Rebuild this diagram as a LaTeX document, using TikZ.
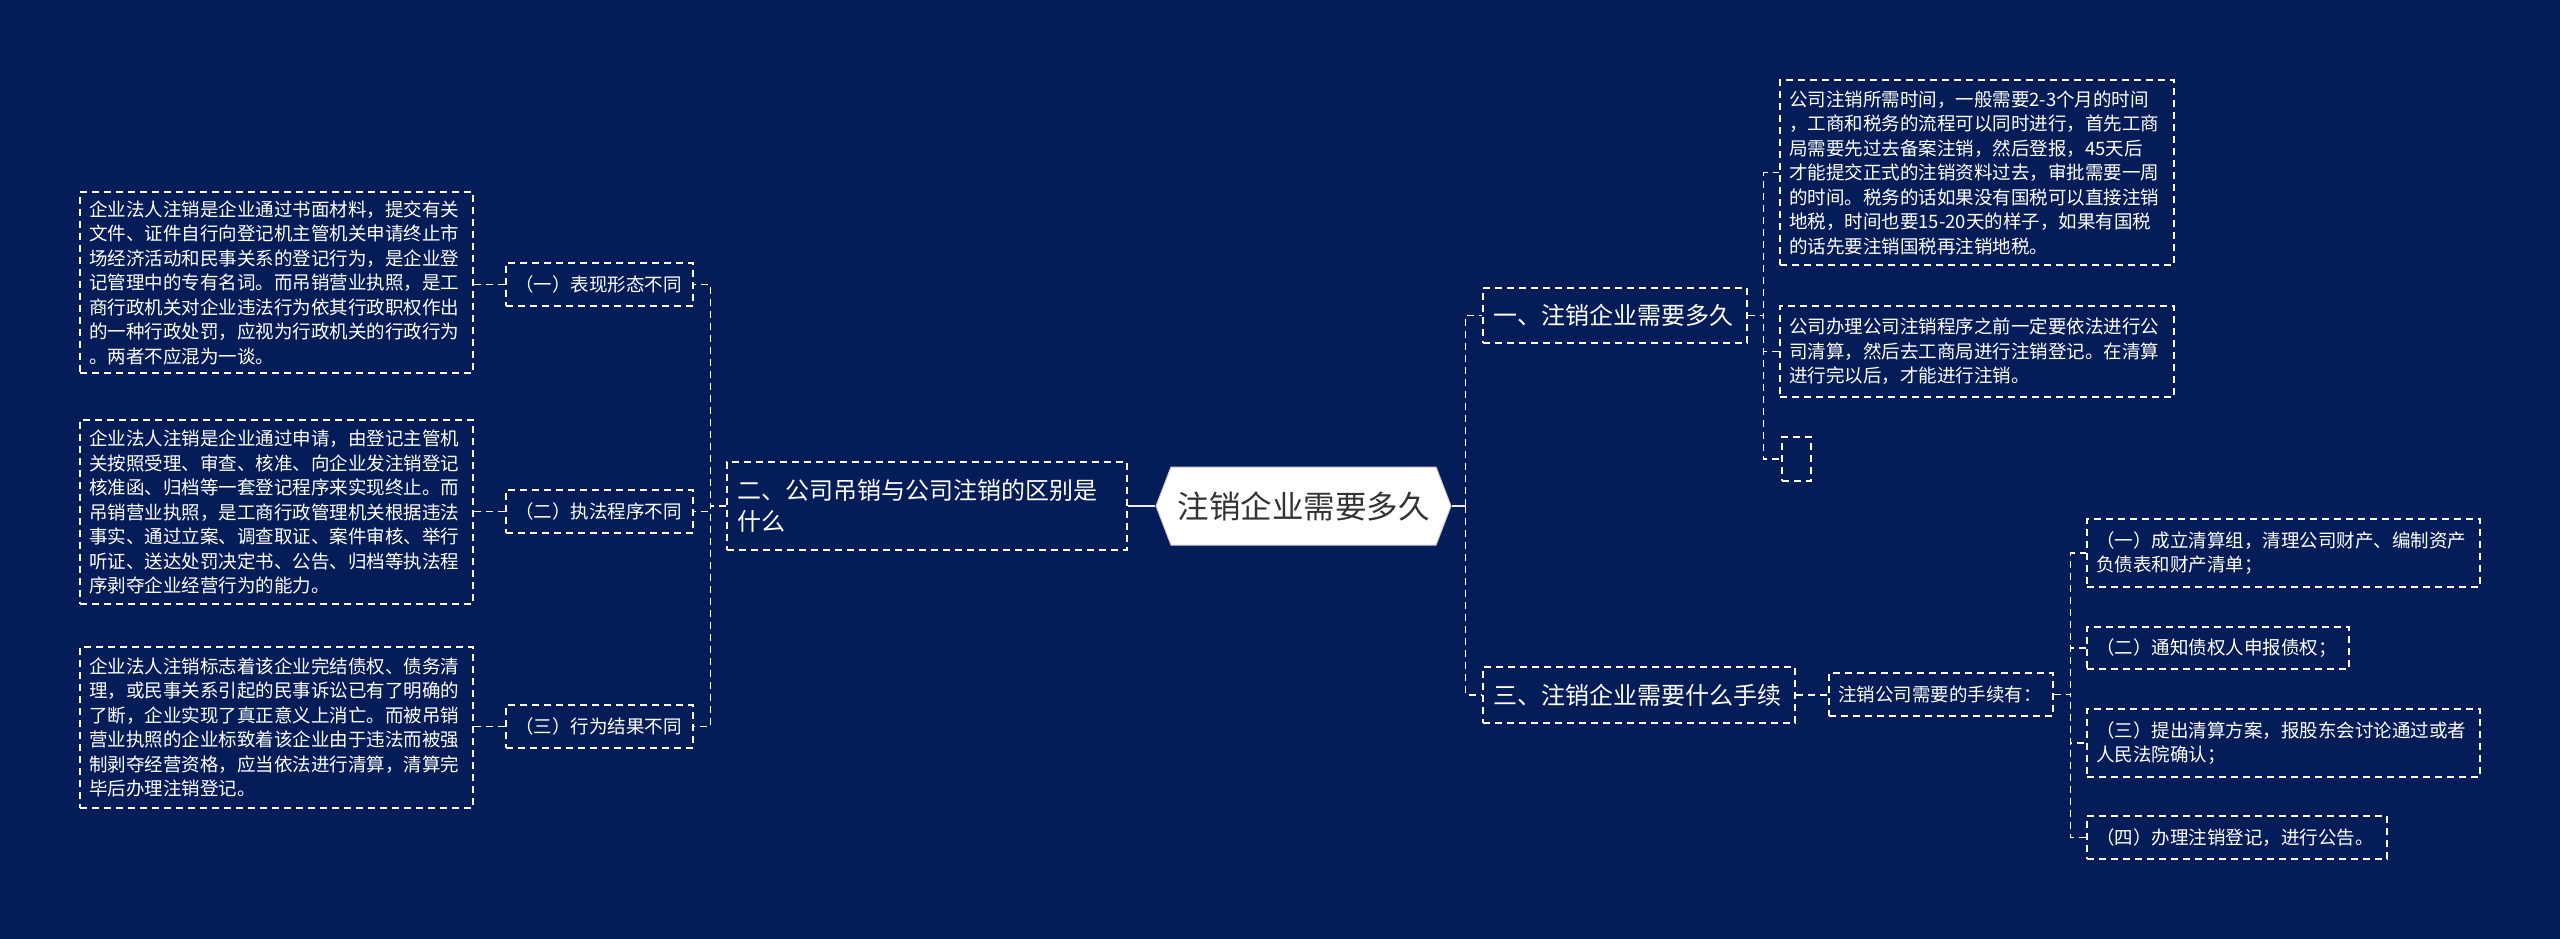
\documentclass[tikz,border=0pt]{standalone}
\usepackage{fontspec}
\setmainfont{Noto Sans CJK SC}
\usetikzlibrary{shapes.symbols}
\definecolor{navy}{HTML}{041D58}
\definecolor{rootink}{HTML}{333333}

\tikzset{
  topic/.style={draw=white,line width=1.3pt,dash pattern=on 7pt off 5pt,text=white,
    align=left,inner xsep=10pt,inner ysep=0pt,font=\fontsize{24pt}{31.5pt}\selectfont},
  branch/.style={draw=white,line width=1.3pt,dash pattern=on 7pt off 5pt,text=white,
    align=left,inner xsep=9pt,inner ysep=0pt,font=\fontsize{18.5pt}{24.5pt}\selectfont},
  link/.style={white,line width=1.3pt,dash pattern=on 7pt off 5pt},
  rootlink/.style={white!85!gray,line width=2.5pt},
}

\begin{document}
\begin{tikzpicture}[x=1pt,y=-1pt]
  \path[use as bounding box] (0,0) rectangle (2560,939);
  \fill[navy] (0,0) rectangle (2560,939);

  % centre topic
  \node[signal,signal to=west and east,signal pointer angle=138,fill=white,draw=gray!40,
    line width=1pt,minimum width=295pt,minimum height=78pt,inner sep=0pt,text=rootink,
    font=\fontsize{31.5pt}{36pt}\selectfont] (root) at (1303.5,506) {注销企业需要多久};

  % left side
  \node[topic,text width=380pt,minimum height=88pt] (two) at (927,506)
    {二、公司吊销与公司注销的区别是\\什么};
  \node[branch,text width=169pt,minimum height=43pt] (l1) at (599.5,284.5) {（一）表现形态不同};
  \node[branch,text width=169pt,minimum height=43pt] (l2) at (599.5,511.5) {（二）执法程序不同};
  \node[branch,text width=169pt,minimum height=43pt] (l3) at (599.5,726.5) {（三）行为结果不同};
  \node[branch,text width=375pt,minimum height=181pt] (t1) at (276.5,282.5)
    {企业法人注销是企业通过书面材料，提交有关\\文件、证件自行向登记机主管机关申请终止市\\场经济活动和民事关系的登记行为，是企业登\\记管理中的专有名词。而吊销营业执照，是工\\商行政机关对企业违法行为依其行政职权作出\\的一种行政处罚，应视为行政机关的行政行为\\。两者不应混为一谈。};
  \node[branch,text width=375pt,minimum height=184pt] (t2) at (276.5,512)
    {企业法人注销是企业通过申请，由登记主管机\\关按照受理、审查、核准、向企业发注销登记\\核准函、归档等一套登记程序来实现终止。而\\吊销营业执照，是工商行政管理机关根据违法\\事实、通过立案、调查取证、案件审核、举行\\听证、送达处罚决定书、公告、归档等执法程\\序剥夺企业经营行为的能力。};
  \node[branch,text width=375pt,minimum height=161pt] (t3) at (276.5,727.5)
    {企业法人注销标志着该企业完结债权、债务清\\理，或民事关系引起的民事诉讼已有了明确的\\了断，企业实现了真正意义上消亡。而被吊销\\营业执照的企业标致着该企业由于违法而被强\\制剥夺经营资格，应当依法进行清算，清算完\\毕后办理注销登记。};

  % right side
  \node[topic,text width=244pt,minimum height=55pt] (one) at (1615,315.5) {一、注销企业需要多久};
  \node[topic,text width=292pt,minimum height=56pt] (three) at (1639,695) {三、注销企业需要什么手续};
  \node[branch,text width=376pt,minimum height=185pt] (r1) at (1977,172.5)
    {公司注销所需时间，一般需要2-3个月的时间\\，工商和税务的流程可以同时进行，首先工商\\局需要先过去备案注销，然后登报，45天后\\才能提交正式的注销资料过去，审批需要一周\\的时间。税务的话如果没有国税可以直接注销\\地税，时间也要15-20天的样子，如果有国税\\的话先要注销国税再注销地税。};
  \node[branch,text width=376pt,minimum height=91pt] (r2) at (1977,351.5)
    {公司办理公司注销程序之前一定要依法进行公\\司清算，然后去工商局进行注销登记。在清算\\进行完以后，才能进行注销。};
  \node[branch,inner xsep=0pt,minimum width=29pt,minimum height=44pt] (r3) at (1796.5,459) {};
  \node[branch,text width=206pt,minimum height=43pt] (s1) at (1941,694.5) {注销公司需要的手续有：};
  \node[branch,text width=375pt,minimum height=68pt] (p1) at (2283.5,553)
    {（一）成立清算组，清理公司财产、编制资产\\负债表和财产清单；};
  \node[branch,text width=244pt,minimum height=42pt] (p2) at (2218,648) {（二）通知债权人申报债权；};
  \node[branch,text width=375pt,minimum height=68pt] (p3) at (2283.5,743)
    {（三）提出清算方案，报股东会讨论通过或者\\人民法院确认；};
  \node[branch,text width=282pt,minimum height=43pt] (p4) at (2237,837.5) {（四）办理注销登记，进行公告。};

  % connectors
  \draw[rootlink] (two.east) -- (root.west);
  \foreach \c in {l1,l2,l3}
    \draw[link] (two.west) -- ++(-16pt,0) |- (\c.east);
  \foreach \a/\b in {l1/t1,l2/t2,l3/t3}
    \draw[link] (\a.west) -- (\a.west -| \b.east);
  \draw[rootlink] (root.east) -- ++(14pt,0) coordinate (rj);
  \foreach \c in {one,three}
    \draw[link] (rj) |- (\c.west);
  \foreach \c in {r1,r2,r3}
    \draw[link] (one.east) -- ++(16pt,0) |- (\c.west);
  \draw[link] (three.east) -- (three.east -| s1.west);
  \foreach \c in {p1,p2,p3,p4}
    \draw[link] (s1.east) -- ++(17pt,0) |- (\c.west);
\end{tikzpicture}
\end{document}
